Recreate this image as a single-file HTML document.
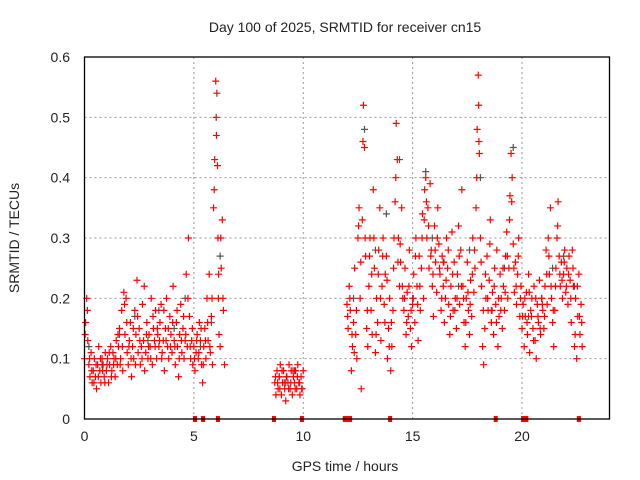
<!DOCTYPE html>
<html><head><meta charset="utf-8"><style>
html,body{margin:0;padding:0;background:#fff}
svg{display:block;font-family:"Liberation Sans",sans-serif}
</style></head><body>
<svg id="chart" width="640" height="480" viewBox="0 0 640 480">
<text x="345" y="32" font-size="14" text-anchor="middle" fill="#222">Day 100 of 2025, SRMTID for receiver cn15</text>
<text x="345" y="471" font-size="14" text-anchor="middle" fill="#222">GPS time / hours</text>
<text transform="translate(19,238) rotate(-90)" font-size="14" text-anchor="middle" fill="#222">SRMTID / TECUs</text>
<g id="grid"></g>
<g id="ticks"></g>
<g id="gray"></g>
<g id="red"></g>
<g id="zeros"></g>
<rect x="84.5" y="57" width="525" height="362" fill="none" stroke="#000" stroke-width="1.3"/>
</svg>
<script>
const xTicks=[0,5,10,15,20];
const yTicks=[0,0.1,0.2,0.3,0.4,0.5,0.6];
const yTickLabels=["0","0.1","0.2","0.3","0.4","0.5","0.6"];
const redT=[0,0.05,0.1,0.15,0.2,0.25,0.3,0.35,0.4,0.45,0.5,0.55,0.6,0.65,0.7,0.75,0.8,0.85,0.9,0.95,1.0,1.05,1.1,1.15,1.2,1.25,1.3,1.35,1.4,1.45,1.5,1.55,1.6,1.65,1.7,1.75,1.8,1.85,1.9,1.95,2.0,2.05,2.1,2.15,2.2,2.25,2.3,2.35,2.4,2.45,2.5,2.55,2.6,2.65,2.7,2.75,2.8,2.85,2.9,2.95,3.0,3.05,3.1,3.15,3.2,3.25,3.3,3.35,3.4,3.45,3.5,3.55,3.6,3.65,3.7,3.75,3.8,3.85,3.9,3.95,4.0,4.05,4.1,4.15,4.2,4.25,4.3,4.35,4.4,4.45,4.5,4.55,4.6,4.65,4.7,4.75,4.8,4.85,4.9,4.95,5.0,5.05,5.1,5.15,5.2,5.25,5.3,5.35,5.4,5.45,5.5,5.55,5.6,5.65,5.7,5.75,5.8,5.85,5.9,5.95,6.0,6.02,6.05,6.08,6.1,6.12,6.15,6.2,6.25,6.3,6.35,6.4,
8.7,8.75,8.8,8.85,8.9,8.95,9.0,9.05,9.1,9.15,9.2,9.25,9.3,9.35,9.4,9.45,9.5,9.55,9.6,9.65,9.7,9.75,9.8,9.85,9.9,9.95,10.0,
12.0,12.05,12.1,12.15,12.2,12.25,12.3,12.35,12.4,12.45,12.5,12.55,12.6,12.65,12.7,12.75,12.8,12.85,12.9,12.95,13.0,13.05,13.1,13.15,13.2,13.25,13.3,13.35,13.4,13.45,13.5,13.55,13.6,13.65,13.7,13.75,13.8,13.85,13.9,13.95,14.0,14.05,14.1,14.15,14.2,14.25,14.3,14.35,14.4,14.45,14.5,14.55,14.6,14.65,14.7,14.75,14.8,14.85,14.9,14.95,15.0,15.05,15.1,15.15,15.2,15.25,15.3,15.35,15.4,15.45,15.5,15.55,15.6,15.65,15.7,15.75,15.8,15.85,15.9,15.95,16.0,16.05,16.1,16.15,16.2,16.25,16.3,16.35,16.4,16.45,16.5,16.55,16.6,16.65,16.7,16.75,16.8,16.85,16.9,16.95,17.0,17.05,17.1,17.15,17.2,17.25,17.3,17.35,17.4,17.45,17.5,17.55,17.6,17.65,17.7,17.75,17.8,17.85,17.9,17.95,18.0,18.02,18.05,18.1,18.15,18.2,18.25,18.3,18.35,18.4,18.45,18.5,18.55,18.6,18.65,18.7,18.75,18.8,18.85,18.9,18.95,19.0,19.05,19.1,19.15,19.2,19.25,19.3,19.35,19.4,19.45,19.5,19.55,19.6,19.65,19.7,19.75,19.8,19.85,19.9,19.95,20.0,20.05,20.1,20.15,20.2,20.25,20.3,20.35,20.4,20.45,20.5,20.55,20.6,20.65,20.7,20.75,20.8,20.85,20.9,20.95,21.0,21.05,21.1,21.15,21.2,21.25,21.3,21.35,21.4,21.45,21.5,21.55,21.6,21.65,21.7,21.75,21.8,21.85,21.9,21.95,22.0,22.05,22.1,22.15,22.2,22.25,22.3,22.35,22.4,22.45,22.5,22.55,22.6,22.65,22.7,22.75];
const redV=[0.1,0.16,0.2,0.13,0.09,0.07,0.11,0.06,0.08,0.1,0.07,0.05,0.09,0.12,0.08,0.06,0.1,0.09,0.07,0.11,0.08,0.1,0.06,0.09,0.12,0.08,0.11,0.1,0.07,0.13,0.09,0.12,0.15,0.1,0.18,0.08,0.21,0.14,0.2,0.11,0.09,0.13,0.16,0.07,0.12,0.1,0.18,0.14,0.23,0.11,0.15,0.09,0.12,0.19,0.13,0.08,0.11,0.16,0.1,0.14,0.12,0.2,0.09,0.15,0.13,0.18,0.1,0.14,0.12,0.16,0.19,0.11,0.13,0.08,0.15,0.2,0.12,0.1,0.17,0.14,0.11,0.22,0.13,0.09,0.16,0.12,0.07,0.14,0.19,0.11,0.15,0.1,0.13,0.24,0.12,0.3,0.17,0.1,0.13,0.09,0.12,0.08,0.11,0.14,0.1,0.16,0.13,0.09,0.06,0.12,0.15,0.1,0.2,0.13,0.24,0.11,0.17,0.09,0.35,0.43,0.56,0.5,0.54,0.42,0.3,0.2,0.14,0.12,0.25,0.33,0.18,0.09,
0.06,0.04,0.08,0.05,0.07,0.09,0.04,0.06,0.08,0.05,0.03,0.07,0.06,0.09,0.05,0.08,0.04,0.07,0.06,0.08,0.05,0.09,0.06,0.04,0.07,0.05,0.08,
0.19,0.15,0.22,0.18,0.08,0.12,0.16,0.25,0.14,0.1,0.3,0.35,0.2,0.05,0.33,0.52,0.45,0.27,0.15,0.12,0.22,0.3,0.18,0.14,0.38,0.25,0.11,0.2,0.16,0.28,0.35,0.13,0.22,0.3,0.19,0.24,0.27,0.1,0.15,0.2,0.08,0.12,0.18,0.3,0.36,0.49,0.43,0.3,0.22,0.26,0.35,0.2,0.18,0.25,0.14,0.21,0.17,0.28,0.15,0.12,0.19,0.24,0.16,0.3,0.22,0.13,0.27,0.18,0.25,0.34,0.2,0.38,0.4,0.3,0.35,0.25,0.39,0.28,0.22,0.17,0.32,0.26,0.21,0.35,0.29,0.24,0.18,0.27,0.22,0.16,0.2,0.3,0.25,0.19,0.14,0.22,0.31,0.18,0.26,0.2,0.15,0.24,0.32,0.19,0.28,0.38,0.22,0.16,0.12,0.2,0.26,0.18,0.14,0.23,0.17,0.3,0.21,0.25,0.35,0.48,0.57,0.52,0.44,0.3,0.22,0.12,0.09,0.15,0.2,0.27,0.18,0.23,0.33,0.16,0.21,0.14,0.25,0.19,0.28,0.12,0.17,0.24,0.2,0.15,0.22,0.18,0.27,0.31,0.2,0.25,0.37,0.44,0.4,0.29,0.21,0.26,0.19,0.24,0.3,0.17,0.22,0.15,0.19,0.12,0.17,0.21,0.14,0.24,0.11,0.18,0.2,0.15,0.22,0.13,0.1,0.19,0.16,0.23,0.14,0.2,0.18,0.15,0.22,0.28,0.19,0.3,0.24,0.35,0.2,0.16,0.12,0.18,0.25,0.3,0.36,0.27,0.22,0.26,0.2,0.24,0.28,0.21,0.25,0.19,0.27,0.23,0.16,0.28,0.22,0.12,0.2,0.1,0.17,0.24,0.14,0.19,0.12];
const redT2=[0.03,0.13,0.23,0.33,0.43,0.53,0.63,0.73,0.83,0.93,1.03,1.13,1.23,1.33,1.43,1.53,1.63,1.73,1.83,1.93,2.03,2.13,2.23,2.33,2.43,2.53,2.63,2.73,2.83,2.93,3.03,3.13,3.23,3.33,3.43,3.53,3.63,3.73,3.83,3.93,4.03,4.13,4.23,4.33,4.43,4.53,4.63,4.73,4.83,4.93,5.03,5.13,5.23,5.33,5.43,5.53,5.63,5.73,5.83,5.93,6.03,6.13,6.23,6.33,
8.73,8.83,8.93,9.03,9.13,9.23,9.33,9.43,9.53,9.63,9.73,9.83,9.93,
12.03,12.13,12.23,12.33,12.43,12.53,12.63,12.73,12.83,12.93,13.03,13.13,13.23,13.33,13.43,13.53,13.63,13.73,13.83,13.93,14.03,14.13,14.23,14.33,14.43,14.53,14.63,14.73,14.83,14.93,15.03,15.13,15.23,15.33,15.43,15.53,15.63,15.73,15.83,15.93,16.03,16.13,16.23,16.33,16.43,16.53,16.63,16.73,16.83,16.93,17.03,17.13,17.23,17.33,17.43,17.53,17.63,17.73,17.83,17.93,18.03,18.13,18.23,18.33,18.43,18.53,18.63,18.73,18.83,18.93,19.03,19.13,19.23,19.33,19.43,19.53,19.63,19.73,19.83,19.93,20.03,20.13,20.23,20.33,20.43,20.53,20.63,20.73,20.83,20.93,21.03,21.13,21.23,21.33,21.43,21.53,21.63,21.73,21.83,21.93,22.03,22.13,22.23,22.33,22.43,22.53,22.63,22.73];
const redV2=[0.14,0.18,0.1,0.08,0.06,0.09,0.07,0.1,0.08,0.06,0.09,0.11,0.07,0.09,0.1,0.14,0.09,0.12,0.19,0.16,0.12,0.1,0.15,0.09,0.17,0.13,0.1,0.22,0.14,0.12,0.1,0.17,0.12,0.15,0.13,0.1,0.18,0.13,0.15,0.12,0.16,0.12,0.18,0.1,0.13,0.17,0.14,0.2,0.12,0.15,0.1,0.13,0.11,0.15,0.09,0.13,0.16,0.12,0.2,0.38,0.47,0.24,0.3,0.2,
0.07,0.06,0.05,0.08,0.06,0.07,0.05,0.06,0.08,0.05,0.07,0.06,0.05,
0.17,0.2,0.14,0.11,0.18,0.32,0.26,0.46,0.3,0.18,0.27,0.24,0.3,0.14,0.24,0.2,0.27,0.16,0.23,0.12,0.16,0.25,0.4,0.26,0.29,0.22,0.2,0.16,0.22,0.18,0.2,0.27,0.19,0.22,0.3,0.33,0.36,0.32,0.27,0.24,0.28,0.3,0.25,0.2,0.26,0.23,0.28,0.17,0.24,0.18,0.2,0.27,0.22,0.2,0.16,0.21,0.19,0.24,0.28,0.4,0.46,0.26,0.18,0.24,0.2,0.29,0.18,0.22,0.16,0.2,0.18,0.25,0.21,0.27,0.33,0.36,0.25,0.22,0.27,0.2,0.17,0.2,0.16,0.21,0.17,0.13,0.2,0.17,0.15,0.19,0.17,0.24,0.27,0.22,0.18,0.22,0.32,0.24,0.23,0.26,0.22,0.24,0.2,0.25,0.14,0.22,0.17,0.16];
const grayT=[0.2,0.8,1.6,2.3,2.9,3.4,4.1,4.6,5.3,5.8,6.2,8.9,9.2,9.6,12.3,12.8,13.3,13.8,14.4,15.0,15.6,15.9,16.4,17.1,17.6,18.1,18.6,19.2,19.6,20.3,20.9,21.4,21.9,22.4];
const grayV=[0.12,0.09,0.14,0.17,0.13,0.18,0.15,0.2,0.12,0.16,0.27,0.07,0.06,0.08,0.2,0.48,0.28,0.34,0.43,0.2,0.41,0.3,0.26,0.22,0.28,0.4,0.18,0.25,0.45,0.17,0.2,0.25,0.27,0.22];
const zeroT=[5.05,5.42,6.1,8.66,9.94,11.9,12.0,12.14,13.97,18.8,20.05,20.2,22.6];

const X0=84.5,X1=609.5,Y0=419,Y1=57,XMAX=24,YMAX=0.6;
const xs=v=>X0+(X1-X0)*v/XMAX;
const ys=v=>Y0-(Y0-Y1)*v/YMAX;
const NS='http://www.w3.org/2000/svg';
function mk(tag,attrs,parent){const e=document.createElementNS(NS,tag);for(const k in attrs)e.setAttribute(k,attrs[k]);parent.appendChild(e);return e;}
const grid=document.getElementById('grid'),ticks=document.getElementById('ticks');
xTicks.forEach(t=>{
  const x=xs(t);
  if(t>0){const g=mk('line',{x1:x,x2:x,y1:Y1,y2:Y0,stroke:'#999','stroke-dasharray':'2,3','stroke-width':1},grid);
  
  }
  const l=mk('text',{x:x,y:441,'font-size':14,'text-anchor':'middle',fill:'#222'},ticks);
  l.textContent=String(t);
  
  
});
yTicks.forEach((t,i)=>{
  const y=ys(t);
  if(t>0&&t<0.6){const g=mk('line',{x1:X0,x2:X1,y1:y,y2:y,stroke:'#999','stroke-dasharray':'2,3','stroke-width':1},grid);
  
  }
  const l=mk('text',{x:70,y:y+5,'font-size':14,'text-anchor':'end',fill:'#222'},ticks);
  l.textContent=yTickLabels[i];
  
  
});
function plus(g,t,v,col,name){
  const x=xs(t),y=ys(v);
  const p=mk('path',{d:`M${x-3.5},${y}H${x+3.5}M${x},${y-3.5}V${y+3.5}`,stroke:col,'stroke-width':1.2,fill:'none'},g);
  
  
}
const gg=document.getElementById('gray'),rg=document.getElementById('red'),zg=document.getElementById('zeros');
grayT.forEach((t,i)=>plus(gg,t,grayV[i],'#555','gray-point'));
redT.forEach((t,i)=>plus(rg,t,redV[i],'#f00','red-point'));
redT2.forEach((t,i)=>plus(rg,t,redV2[i],'#f00','red-point'));
zeroT.forEach(t=>{
  const r=mk('rect',{x:xs(t)-2,y:Y0-3,width:4,height:6,fill:'#f00'},zg);
  
  
});
</script>
</body></html>
